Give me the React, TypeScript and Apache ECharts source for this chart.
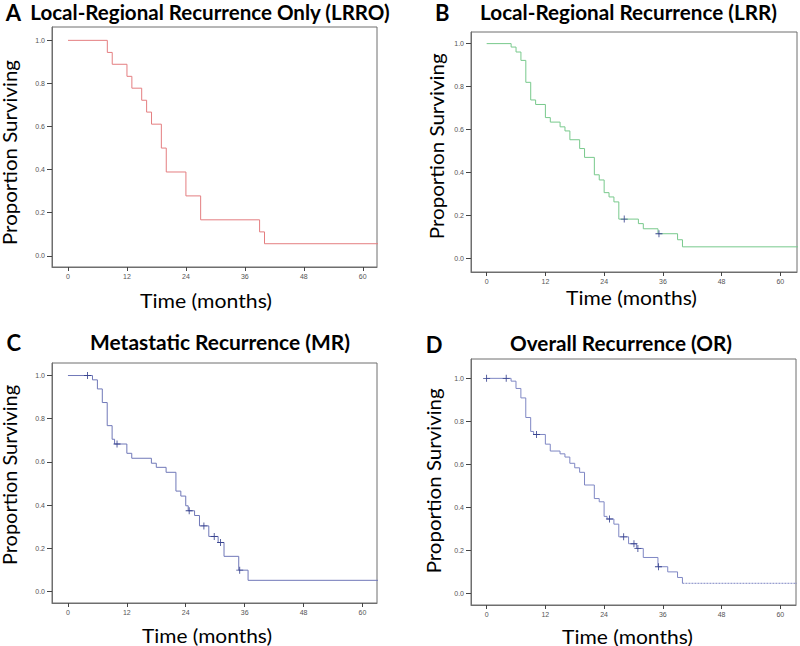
import React, { useEffect, useRef } from "react";
import * as echarts from "echarts";

const xTicks = [0, 12, 24, 36, 48, 60];
const yTicks = [0, 0.2, 0.4, 0.6, 0.8, 1.0];

// A: Local-Regional Recurrence Only (LRRO)
const lrroTime = [0, 8, 9, 12, 13, 15, 16, 17, 19, 20, 24, 27, 39, 40, 64];
const lrroSurv = [1, 0.944, 0.889, 0.833, 0.778, 0.722, 0.667, 0.611, 0.5, 0.389, 0.278, 0.167, 0.111, 0.056, 0.056];
const lrroCensor: number[][] = [];

// B: Local-Regional Recurrence (LRR)
const lrrTime = [0, 5, 6, 7, 8, 9, 10, 12, 13, 15, 16, 17, 19, 20, 22, 23, 24, 25, 26, 27, 31, 32, 35, 39, 40, 64];
const lrrSurv = [1, 0.984, 0.961, 0.922, 0.82, 0.738, 0.717, 0.656, 0.635, 0.613, 0.594, 0.553, 0.512, 0.471, 0.39, 0.366, 0.307, 0.287, 0.264, 0.184, 0.163, 0.139, 0.116, 0.088, 0.055, 0.055];
const lrrCensor = [[28.1, 0.184], [35.2, 0.116]];

// C: Metastatic Recurrence (MR)
const mrTime = [0, 5, 6, 7, 8, 9, 9.5, 12, 13, 17, 18, 20, 22, 23, 24, 24.5, 25.8, 26.8, 28.7, 30.6, 31.8, 34.8, 36.7, 64];
const mrSurv = [1, 0.98, 0.938, 0.875, 0.768, 0.705, 0.683, 0.64, 0.617, 0.594, 0.575, 0.552, 0.465, 0.442, 0.397, 0.374, 0.352, 0.304, 0.255, 0.227, 0.163, 0.099, 0.052, 0.052];
const mrCensor = [[4, 1], [10, 0.683], [24.7, 0.374], [27.7, 0.304], [29.8, 0.255], [31.1, 0.227], [35, 0.099]];

// D: Overall Recurrence (OR)
const orTime = [0, 5, 6, 7, 8, 9, 9.6, 12, 13, 15, 16, 17, 18, 19, 20, 22, 23, 24, 24.6, 26, 27, 29, 30.6, 32, 35, 37, 39, 40];
const orSurv = [1, 0.987, 0.953, 0.909, 0.818, 0.753, 0.739, 0.694, 0.662, 0.649, 0.634, 0.605, 0.584, 0.563, 0.504, 0.441, 0.426, 0.358, 0.346, 0.322, 0.263, 0.231, 0.209, 0.167, 0.124, 0.1, 0.074, 0.047];
const orTailTime = [40, 64];
const orTailSurv = [0.047, 0.047];
const orCensor = [[0, 1], [4, 1], [10.2, 0.739], [25.1, 0.346], [28, 0.263], [30.1, 0.231], [30.9, 0.209], [35.1, 0.124]];

const panels = [
  { letter: "A", title: "Local-Regional Recurrence Only (LRRO)", time: lrroTime, surv: lrroSurv, censor: lrroCensor, color: "#e47e80",
    box: [52, 27, 377, 267], xr: [-3.26, 62.9], yr: [-0.052, 1.062],
    letterPos: [13.5, 12.5], titlePos: [30, 390, 11.7], xtPos: [140, 272, 300.8], ytPos: [10, 60, 245] },
  { letter: "B", title: "Local-Regional Recurrence (LRR)", time: lrrTime, surv: lrrSurv, censor: lrrCensor, color: "#78c98c",
    box: [471, 32, 797, 272], xr: [-3.2, 63.4], yr: [-0.062, 1.054],
    letterPos: [442.3, 12.5], titlePos: [480, 777, 12.2], xtPos: [566, 697, 297.5], ytPos: [436.7, 53.3, 239.3] },
  { letter: "C", title: "Metastatic Recurrence (MR)", time: mrTime, surv: mrSurv, censor: mrCensor, color: "#7078b8",
    box: [52, 363, 377, 603], xr: [-3.25, 62.97], yr: [-0.053, 1.058],
    letterPos: [13.8, 342.5], titlePos: [90, 350, 342.5], xtPos: [142, 272, 635.8], ytPos: [10, 385, 565] },
  { letter: "D", title: "Overall Recurrence (OR)", time: orTime, surv: orSurv, censor: orCensor, color: "#7f87c4",
    box: [471, 359, 796, 605], xr: [-3.19, 63.2], yr: [-0.054, 1.09],
    letterPos: [434, 344], titlePos: [510, 732, 343], xtPos: [562, 693, 636], ytPos: [433.4, 388.3, 573.3] },
];

const plusPath = "path://M-0.12,-1H0.12V-0.12H1V0.12H0.12V1H-0.12V0.12H-1V-0.12H-0.12Z";

function App() {
  const ref = useRef<HTMLDivElement>(null);
  useEffect(() => {
    if (!ref.current) return;
    const chart = echarts.init(ref.current, undefined, { renderer: "svg" });
    const ctx = document.createElement("canvas").getContext("2d")!;
    const fit = (text: string, font: string, target: number) => {
      ctx.font = font;
      const w = ctx.measureText(text).width;
      return w > 0 ? target / w : 1;
    };
    const titleFont = "bold 20px Lato";
    const axisFont = "19px Lato";
    const letterFont = "bold 22px Lato";

    const grid: any[] = [];
    const xAxis: any[] = [];
    const yAxis: any[] = [];
    const series: any[] = [];
    const graphic: any[] = [];
    const frame = "#6e6e6e";
    const tickColor = "#444";

    panels.forEach((p, i) => {
      const [l, t, r, b] = p.box;
      grid.push({ left: l, top: t, width: r - l, height: b - t, show: true, borderColor: frame, borderWidth: 1 });
      xAxis.push({
        type: "value", gridIndex: i, min: p.xr[0], max: p.xr[1], position: "bottom",
        axisLine: { show: true, onZero: false, lineStyle: { color: frame, width: 1 } }, splitLine: { show: false },
        axisTick: { show: true, inside: false, length: 4, customValues: xTicks, lineStyle: { color: tickColor, width: 1 } },
        axisLabel: { show: true, customValues: xTicks, fontSize: 7, color: "#555", margin: 6, fontFamily: "Liberation Sans" },
      });
      yAxis.push({
        type: "value", gridIndex: i, min: p.yr[0], max: p.yr[1], position: "left",
        axisLine: { show: true, onZero: false, lineStyle: { color: frame, width: 1 } }, splitLine: { show: false },
        axisTick: { show: true, inside: false, length: 5, customValues: yTicks, lineStyle: { color: tickColor, width: 1 } },
        axisLabel: { show: true, customValues: yTicks, fontSize: 7, color: "#555", margin: 7, fontFamily: "Liberation Sans", formatter: (v: number) => v.toFixed(1) },
      });
      series.push({
        type: "line", xAxisIndex: i, yAxisIndex: i, step: "end", symbol: "none",
        data: p.time.map((x, k) => [x, p.surv[k]]),
        lineStyle: { color: p.color, width: 1 },
      });
      if (p.letter === "D") {
        series.push({
          type: "line", xAxisIndex: i, yAxisIndex: i, symbol: "none",
          data: orTailTime.map((x, k) => [x, orTailSurv[k]]),
          lineStyle: { color: p.color, width: 1, type: [2, 1] },
        });
      }
      if (p.censor.length) {
        series.push({
          type: "scatter", xAxisIndex: i, yAxisIndex: i, symbol: plusPath, symbolSize: 7,
          data: p.censor, itemStyle: { color: "#3a4590", opacity: 1 }, z: 5,
        });
      }
      graphic.push({
        type: "text", x: p.letterPos[0], y: p.letterPos[1],
        style: { text: p.letter, font: letterFont, fill: "#000", textAlign: "center", textVerticalAlign: "middle" },
      });
      const [tx0, tx1, ty] = p.titlePos;
      graphic.push({
        type: "text", x: (tx0 + tx1) / 2, y: ty, scaleX: fit(p.title, titleFont, tx1 - tx0),
        style: { text: p.title, font: titleFont, fill: "#000", textAlign: "center", textVerticalAlign: "middle" },
      });
      const [xx0, xx1, xy] = p.xtPos;
      const xt = "Time (months)";
      graphic.push({
        type: "text", x: (xx0 + xx1) / 2, y: xy, scaleX: fit(xt, axisFont, xx1 - xx0),
        style: { text: xt, font: axisFont, fill: "#000", textAlign: "center", textVerticalAlign: "middle" },
      });
      const [yx, yy0, yy1] = p.ytPos;
      const yt = "Proportion Surviving";
      graphic.push({
        type: "text", x: yx, y: (yy0 + yy1) / 2, rotation: Math.PI / 2, scaleX: fit(yt, axisFont, yy1 - yy0),
        style: { text: yt, font: axisFont, fill: "#000", textAlign: "center", textVerticalAlign: "middle" },
      });
    });

    chart.setOption({
      animation: false,
      backgroundColor: "#fff",
      grid, xAxis, yAxis, series, graphic,
    });
    return () => chart.dispose();
  }, []);
  return <div ref={ref} style={{ position: "fixed", left: 0, top: 0, width: 800, height: 646 }} />;
}

export default App;
